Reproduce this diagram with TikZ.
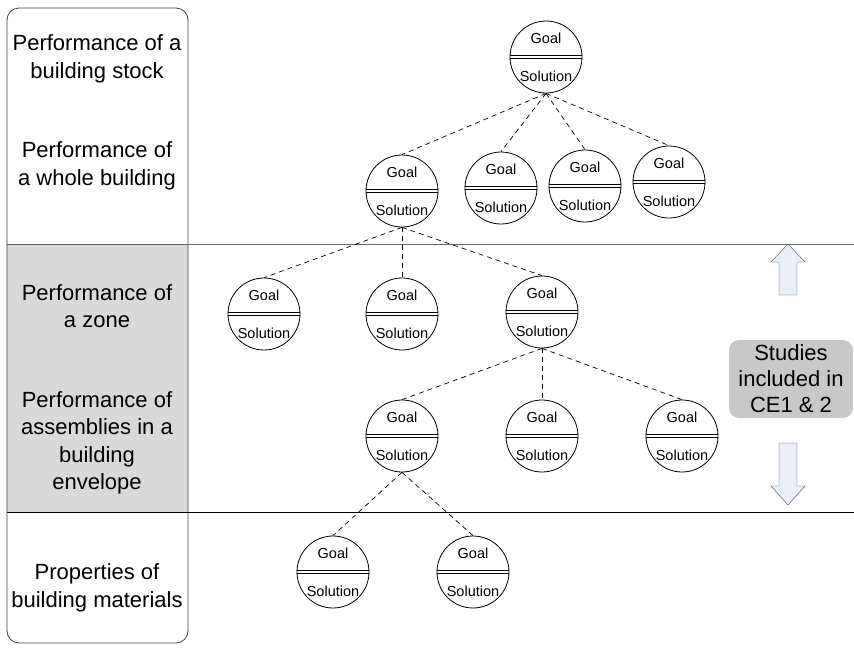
\documentclass[tikz,border=0pt]{standalone}
\usepackage{fontspec}
\setmainfont{Liberation Sans}
\usepackage{tikz}
\usetikzlibrary{arrows,positioning}

\definecolor{bandgray}{HTML}{D9D9D9}
\definecolor{arrowfill}{HTML}{E9EEF7}
\definecolor{studygray}{HTML}{C8C8C8}

\tikzset{
  gs/.style={circle,draw=black,line width=0.8pt,minimum size=72pt,inner sep=0pt,align=center,
    font=\fontsize{14.5}{38}\selectfont,
    path picture={
      \draw[line width=0.8pt] ([yshift=1.6pt]path picture bounding box.west) -- ([yshift=1.6pt]path picture bounding box.east);
      \draw[line width=0.8pt] ([yshift=-1.6pt]path picture bounding box.west) -- ([yshift=-1.6pt]path picture bounding box.east);}},
  lvl/.style={align=center,font=\fontsize{22}{27.5}\selectfont},
  link/.style={dash pattern=on 5pt off 4pt,line width=0.7pt}
}

\begin{document}
\begin{tikzpicture}[x=1pt,y=-1pt]
\useasboundingbox (0,0) rectangle (854,651);
%levels on the left
\fill[bandgray] (7,245) rectangle (188,512);
\draw[black!75,line width=0.8pt,rounded corners=12pt] (7,8) rectangle (188,643);
\draw[black!60,line width=0.8pt] (7,244) -- (854,244);
\draw[line width=0.8pt] (7,512) -- (854,512);
\node at (97,59)[lvl](stock){Performance of a\\building stock};
\node at (97,166)[lvl](whole){Performance of\\a whole building};
\node at (97,306)[lvl](zone){Performance of\\a zone};
\node at (97,443)[lvl](assem){Performance of\\assemblies in a\\building\\envelope};
\node at (97,588)[lvl](mater){Properties of\\building materials};
%goal / solution tree
\node at (546,57)[gs](t){Goal\\Solution};
\node at (402,191)[gs](b1){Goal\\Solution};
\node at (501,188)[gs](b2){Goal\\Solution};
\node at (585,186)[gs](b3){Goal\\Solution};
\node at (669,182)[gs](b4){Goal\\Solution};
\node at (264,314)[gs](z1){Goal\\Solution};
\node at (402,314)[gs](z2){Goal\\Solution};
\node at (542,312)[gs](z3){Goal\\Solution};
\node at (402,436)[gs](a1){Goal\\Solution};
\node at (542,436)[gs](a2){Goal\\Solution};
\node at (682,436)[gs](a3){Goal\\Solution};
\node at (333,572)[gs](m1){Goal\\Solution};
\node at (473,572)[gs](m2){Goal\\Solution};
\foreach \c in {b1,b2,b3,b4} \draw[link] (t.south) -- (\c.north);
\foreach \c in {z1,z2,z3} \draw[link] (b1.south) -- (\c.north);
\foreach \c in {a1,a2,a3} \draw[link] (z3.south) -- (\c.north);
\foreach \c in {m1,m2} \draw[link] (a1.south) -- (\c.north);
%studies box and arrows
\node at (791,379)[rectangle,rounded corners=10pt,fill=studygray,minimum width=124pt,minimum height=78pt,align=center,font=\fontsize{22}{26}\selectfont](study){Studies\\included in\\CE1 \& 2};
\draw[black!70,fill=arrowfill] (788,244) -- (805,262) -- (797,262) -- (797,295) -- (779,295) -- (779,262) -- (771,262) -- cycle;
\draw[black!70,fill=arrowfill] (779,443) -- (797,443) -- (797,486) -- (805,486) -- (788,505) -- (771,486) -- (779,486) -- cycle;
\end{tikzpicture}
\end{document}
